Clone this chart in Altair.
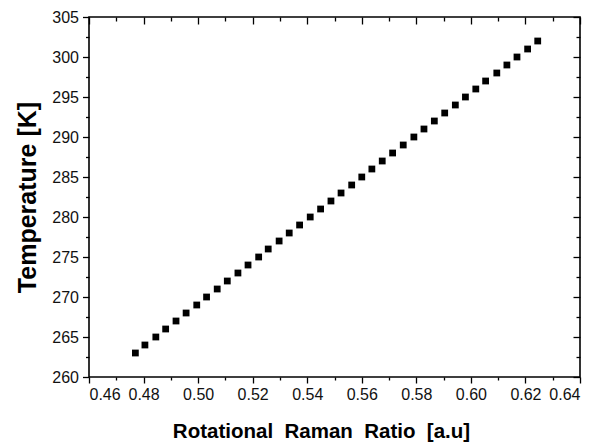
import altair as alt
import pandas as pd

# Data
temperature = [263, 264, 265, 266, 267, 268, 269, 270, 271, 272,
               273, 274, 275, 276, 277, 278, 279, 280, 281, 282,
               283, 284, 285, 286, 287, 288, 289, 290, 291, 292,
               293, 294, 295, 296, 297, 298, 299, 300, 301, 302]
raman_ratio = [0.4770, 0.4805, 0.4845, 0.4881, 0.4919, 0.4956, 0.4995, 0.5031, 0.5070, 0.5107,
               0.5146, 0.5183, 0.5222, 0.5257, 0.5297, 0.5334, 0.5372, 0.5411, 0.5449, 0.5487,
               0.5524, 0.5563, 0.5600, 0.5637, 0.5675, 0.5713, 0.5752, 0.5791, 0.5828, 0.5866,
               0.5904, 0.5943, 0.5980, 0.6018, 0.6054, 0.6095, 0.6132, 0.6169, 0.6208, 0.6245]

x_major = [0.46, 0.48, 0.50, 0.52, 0.54, 0.56, 0.58, 0.60, 0.62, 0.64]
x_minor = [0.47, 0.49, 0.51, 0.53, 0.55, 0.57, 0.59, 0.61, 0.63]
y_major = [260, 265, 270, 275, 280, 285, 290, 295, 300, 305]
y_minor = [262.5, 267.5, 272.5, 277.5, 282.5, 287.5, 292.5, 297.5, 302.5]

x_title = "Rotational\u00a0\u00a0Raman\u00a0\u00a0Ratio\u00a0\u00a0[a.u]"
y_title = "Temperature [K]"

df = pd.DataFrame({"ratio": raman_ratio, "temp": temperature})

FONT = "Liberation Sans"
xscale = alt.Scale(domain=[0.46, 0.64], nice=False, zero=False)
yscale = alt.Scale(domain=[260, 305], nice=False, zero=False)

base = alt.Chart(df)

def tick_axis(orient, values, size, offset=0):
    return alt.Axis(orient=orient, values=values, tickSize=size, offset=offset,
                    labels=False, domain=False, grid=False, title=None,
                    tickColor="black", tickWidth=1.3)

points = base.mark_point(shape="square", filled=True, color="black", size=46, opacity=1).encode(
    x=alt.X("ratio:Q", scale=xscale,
            axis=alt.Axis(orient="bottom", values=x_major, format=".2f", tickSize=6,
                          tickColor="black", tickWidth=1.3, domain=False, grid=False,
                          labelFont=FONT, labelFontSize=16, labelColor="#111111", labelPadding=3,
                          title=x_title, titleFont=FONT, titleX=232,
                          titleFontSize=20.5, titleFontWeight="bold", titleColor="black",
                          titlePadding=19)),
    y=alt.Y("temp:Q", scale=yscale,
            axis=alt.Axis(orient="left", values=y_major, tickSize=6.5,
                          tickColor="black", tickWidth=1.3, domain=False, grid=False,
                          labelFont=FONT, labelFontSize=16, labelColor="#111111", labelPadding=4,
                          title=y_title, titleFont=FONT,
                          titleFontSize=25, titleFontWeight="bold", titleColor="black",
                          titlePadding=11)),
)

minor_out = base.mark_point(opacity=0).encode(
    x=alt.X("ratio:Q", scale=xscale, axis=tick_axis("bottom", x_minor, 3)),
    y=alt.Y("temp:Q", scale=yscale, axis=tick_axis("left", y_minor, 3.5)),
)

major_in = base.mark_point(opacity=0).encode(
    x=alt.X("ratio:Q", scale=xscale, axis=tick_axis("top", x_major, 7, -7)),
    y=alt.Y("temp:Q", scale=yscale, axis=tick_axis("right", y_major, 7, -7)),
)

minor_in = base.mark_point(opacity=0).encode(
    x=alt.X("ratio:Q", scale=xscale, axis=tick_axis("top", x_minor, 4, -4)),
    y=alt.Y("temp:Q", scale=yscale, axis=tick_axis("right", y_minor, 4, -4)),
)

chart = alt.layer(points, minor_out, major_in, minor_in).resolve_axis(
    x="independent", y="independent"
).properties(
    width=491, height=360,
    autosize=alt.AutoSizeParams(type="none"),
    padding={"left": 89, "top": 17, "right": 29, "bottom": 68},
    background="white",
).configure_view(
    stroke="black", strokeWidth=1.6
)

chart.save("out.html", embed_options={"renderer": "svg", "actions": False})
